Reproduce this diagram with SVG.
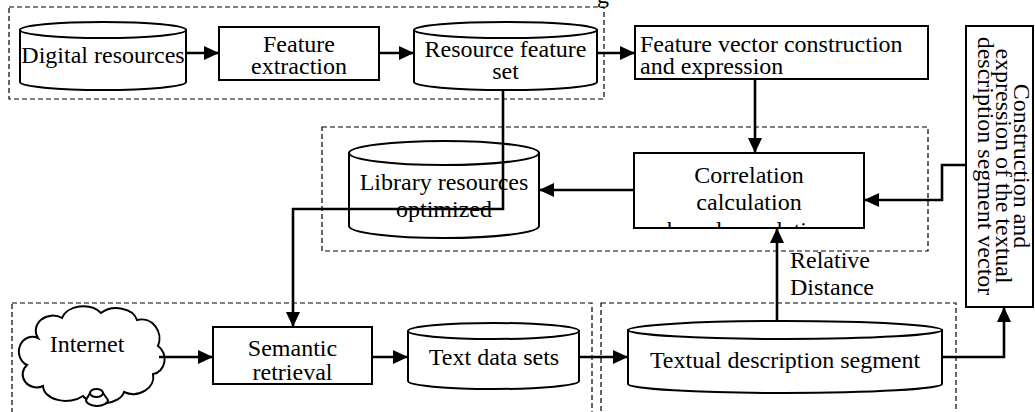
<svg xmlns="http://www.w3.org/2000/svg" width="1035" height="412" viewBox="0 0 1035 412">
  <style>
    text { font-family: "Liberation Serif", "Times New Roman", serif; font-size: 24px; fill: #000; }
    .c { text-anchor: middle; }
    .node { fill: #fff; stroke: #000; stroke-width: 2; }
    .lid { fill: #fff; stroke: #000; stroke-width: 2; }
    .group { fill: none; stroke: #000; stroke-width: 1.2; stroke-dasharray: 5 3; }
    .wire { fill: none; stroke: #000; stroke-width: 2.6; }
  </style>
  <defs>
    <marker id="arrow" markerUnits="userSpaceOnUse" markerWidth="15" markerHeight="14" refX="15" refY="7" orient="auto">
      <path d="M0,0 L15,7 L0,14 Z" fill="#000"/>
    </marker>
    <clipPath id="corrClip">
      <rect x="635" y="154" width="228" height="73"/>
    </clipPath>
  </defs>

  <rect width="1035" height="412" fill="#fff"/>

  <!-- partly visible caption line above the chart -->
  <text x="597" y="3">g</text>

  <!-- dashed grouping frames -->
  <g id="groups">
    <rect class="group" x="9" y="7" width="595" height="92"/>
    <rect class="group" x="322" y="127" width="606" height="124"/>
    <rect class="group" x="12" y="303" width="580" height="115"/>
    <rect class="group" x="601" y="303" width="355" height="115"/>
  </g>

  <!-- top row -->
  <g id="digital-resources">
    <path class="node" d="M20,30 V82 A83,8 0 0 0 186,82 V30 Z"/>
    <ellipse class="lid" cx="103" cy="30" rx="83" ry="8"/>
    <text class="c" x="103" y="63">Digital resources</text>
  </g>

  <g id="feature-extraction">
    <rect class="node" x="219" y="27" width="160" height="53"/>
    <text class="c" x="299" y="52">Feature</text>
    <text class="c" x="299" y="74">extraction</text>
  </g>

  <g id="resource-feature-set">
    <path class="node" d="M414,30 V82 A91.5,8 0 0 0 597,82 V30 Z"/>
    <ellipse class="lid" cx="505.5" cy="30" rx="91.5" ry="8"/>
    <text class="c" x="505.5" y="57">Resource feature</text>
    <text class="c" x="505.5" y="79">set</text>
  </g>

  <g id="feature-vector">
    <rect class="node" x="635" y="26" width="293" height="53"/>
    <text x="640" y="52">Feature vector construction</text>
    <text x="640" y="74">and expression</text>
  </g>

  <g id="segment-vector">
    <rect class="node" x="966" y="26" width="67" height="281"/>
    <text class="c" transform="translate(1014,166) rotate(90)">Construction and</text>
    <text class="c" transform="translate(996,166) rotate(90)">expression of the textual</text>
    <text class="c" transform="translate(978,166) rotate(90)">description segment vector</text>
  </g>

  <!-- middle row -->
  <g id="library-resources">
    <path class="node" d="M349,153 V226 A95,12 0 0 0 539,226 V153 Z"/>
    <ellipse class="lid" cx="444" cy="153" rx="95" ry="12"/>
    <text class="c" x="444" y="190">Library resources</text>
    <text class="c" x="444" y="217">optimized</text>
  </g>

  <g id="correlation">
    <rect class="node" x="634" y="153" width="230" height="75"/>
    <text class="c" x="749" y="183">Correlation</text>
    <text class="c" x="749" y="210">calculation</text>
    <text class="c" x="749" y="238" clip-path="url(#corrClip)">based on relation</text>
  </g>

  <!-- bottom row -->
  <g id="internet">
    <path class="node" d="M38,338 A17,15 0 0 1 62,318 A22,16 0 0 1 101,313 A21,15 0 0 1 137,320 A18,19 0 0 1 158,346 A13,15 0 0 1 153,374 A20,17 0 0 1 124,392 A22,14 0 0 1 83,396 A23,15 0 0 1 43,386 A14,13 0 0 1 27,365 A12,13 0 0 1 38,338 Z"/>
    <path class="node" d="M90,393 L86,400 A11,6 0 0 0 108,400 L103,393 Z"/>
    <ellipse class="lid" cx="96.5" cy="393" rx="6.5" ry="4"/>
    <text class="c" x="87" y="352">Internet</text>
  </g>

  <g id="semantic-retrieval">
    <rect class="node" x="213" y="327" width="159" height="57"/>
    <text class="c" x="292.5" y="356">Semantic</text>
    <text class="c" x="292.5" y="380">retrieval</text>
  </g>

  <g id="text-data-sets">
    <path class="node" d="M408,331 V381 A85.5,8 0 0 0 579,381 V331 Z"/>
    <ellipse class="lid" cx="493.5" cy="331" rx="85.5" ry="8"/>
    <text class="c" x="494" y="365">Text data sets</text>
  </g>

  <g id="textual-description-segment">
    <path class="node" d="M628,330 V384 A157,9 0 0 0 942,384 V330 Z"/>
    <ellipse class="lid" cx="785" cy="330" rx="157" ry="9"/>
    <text class="c" x="785" y="368">Textual description segment</text>
  </g>

  <!-- connectors -->
  <g id="connectors">
    <path class="wire" d="M186,53 H219" marker-end="url(#arrow)"/>
    <path class="wire" d="M379,53 H414" marker-end="url(#arrow)"/>
    <path class="wire" d="M597,53 H635" marker-end="url(#arrow)"/>
    <path class="wire" d="M755,79 V153" marker-end="url(#arrow)"/>
    <path class="wire" d="M634,190 H539" marker-end="url(#arrow)"/>
    <path class="wire" d="M503,90 V209 H293 V327" marker-end="url(#arrow)"/>
    <path class="wire" d="M966,165 H942 V200 H864" marker-end="url(#arrow)"/>
    <path class="wire" d="M777,321 V228" marker-end="url(#arrow)"/>
    <path class="wire" d="M159,357 H213" marker-end="url(#arrow)"/>
    <path class="wire" d="M372,357 H408" marker-end="url(#arrow)"/>
    <path class="wire" d="M579,357 H628" marker-end="url(#arrow)"/>
    <path class="wire" d="M942,357 H1004 V307" marker-end="url(#arrow)"/>
  </g>

  <g id="edge-label">
    <text x="790" y="268">Relative</text>
    <text x="790" y="295">Distance</text>
  </g>
</svg>
